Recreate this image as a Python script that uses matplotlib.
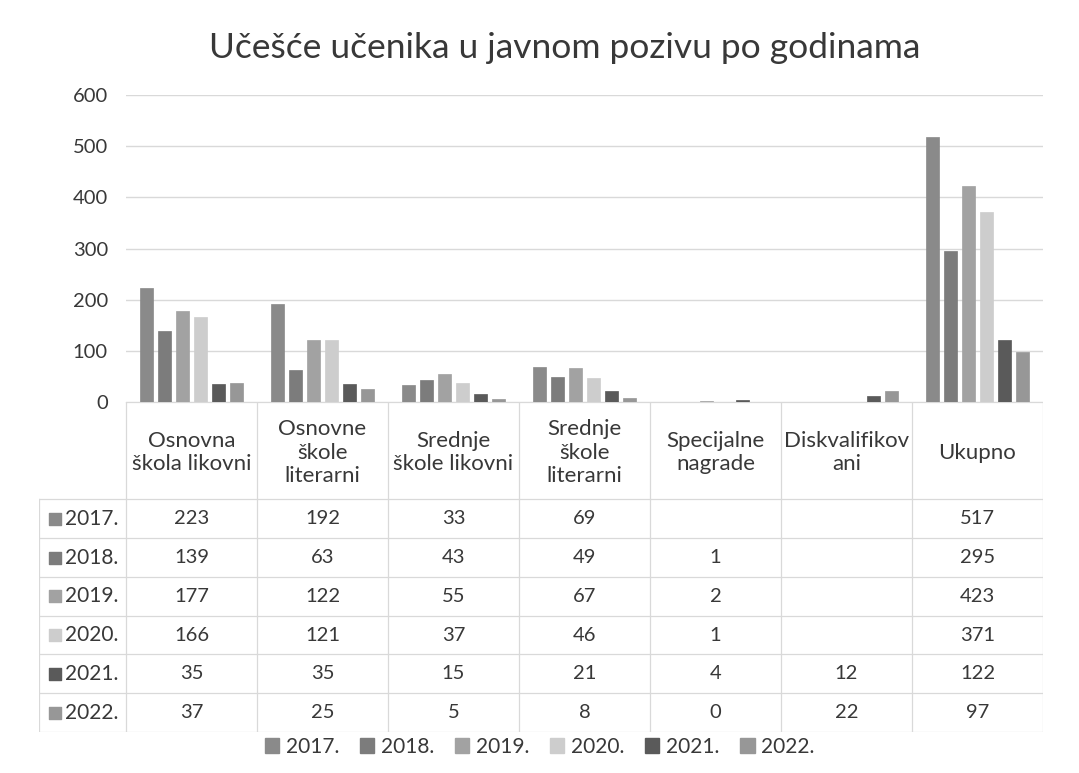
import numpy as np
import matplotlib
matplotlib.use('Agg')
import matplotlib.pyplot as plt
from matplotlib.patches import Patch

plt.rcParams['font.family'] = ['Lato', 'DejaVu Sans']

# Data (None = empty cell)
categories = ['Osnovna\nškola likovni', 'Osnovne\nškole\nliterarni', 'Srednje\nškole likovni',
              'Srednje\nškole\nliterarni', 'Specijalne\nnagrade', 'Diskvalifikov\nani', 'Ukupno']
years = ['2017.', '2018.', '2019.', '2020.', '2021.', '2022.']
y2017 = [223, 192, 33, 69, None, None, 517]
y2018 = [139, 63, 43, 49, 1, None, 295]
y2019 = [177, 122, 55, 67, 2, None, 423]
y2020 = [166, 121, 37, 46, 1, None, 371]
y2021 = [35, 35, 15, 21, 4, 12, 122]
y2022 = [37, 25, 5, 8, 0, 22, 97]
series = [y2017, y2018, y2019, y2020, y2021, y2022]
colors = ['#8a8a8a', '#7c7c7c', '#a2a2a2', '#cdcdcd', '#5a5a5a', '#979797']

grid_c = '#d9d9d9'
text_c = '#383838'

fig = plt.figure(figsize=(10.79, 7.73), dpi=100)

# ---- bar chart
ax = fig.add_axes([0.1168, 0.4799, 0.8499, 0.3972])
x = np.arange(len(categories))
step = 0.137
width = 0.10
for i, (vals, c) in enumerate(zip(series, colors)):
    v = [np.nan if a is None else a for a in vals]
    ax.bar(x + (i - 2.5) * step, v, width=width, color=c, edgecolor=c, linewidth=0.5, zorder=3)

ax.set_xlim(-0.5, len(categories) - 0.5)
ax.set_ylim(0, 600)
ax.set_yticks(range(0, 601, 100))
ax.yaxis.grid(True, color=grid_c, linewidth=1.0, zorder=0)
ax.set_xticks([])
ax.tick_params(axis='y', length=0, pad=13, labelsize=14.5, labelcolor=text_c)
for s in ax.spines.values():
    s.set_visible(False)

# ---- data table
tx = fig.add_axes([0.0361, 0.0530, 0.9305, 0.4269])
label_w = 0.664
hdr_h = 2.51
n_rows = len(years)
tx.set_xlim(-0.5 - label_w, len(categories) - 0.5)
tx.set_ylim(hdr_h + n_rows, 0)
tx.axis('off')

lw = 0.9
# horizontal lines
tx.plot([-0.5, len(categories) - 0.5], [0, 0], color=grid_c, lw=lw)
for r in range(n_rows + 1):
    tx.plot([-0.5 - label_w, len(categories) - 0.5], [hdr_h + r, hdr_h + r], color=grid_c, lw=lw)
# vertical lines
tx.plot([-0.5 - label_w] * 2, [hdr_h, hdr_h + n_rows], color=grid_c, lw=lw)
for k in range(len(categories) + 1):
    tx.plot([k - 0.5] * 2, [0, hdr_h + n_rows], color=grid_c, lw=lw)

for k, cat in enumerate(categories):
    tx.text(k, hdr_h / 2 + 0.05, cat, ha='center', va='center', fontsize=16,
            color=text_c, linespacing=1.2)

for r, (yr, vals, c) in enumerate(zip(years, series, colors)):
    yc = hdr_h + r + 0.5
    tx.scatter([-0.5 - label_w + 0.12], [yc], marker='s', s=70, color=c)
    tx.text(-0.5 - label_w + 0.2, yc, yr, ha='left', va='center', fontsize=15, color=text_c)
    for k, v in enumerate(vals):
        if v is not None:
            tx.text(k, yc, str(v), ha='center', va='center', fontsize=14.5, color=text_c)

# ---- legend
handles = [Patch(facecolor=c, edgecolor=c) for c in colors]
fig.legend(handles, years, loc='center', bbox_to_anchor=(0.5, 0.034), ncol=6, frameon=False,
           fontsize=15, handlelength=0.7, handleheight=0.7, handletextpad=0.3,
           columnspacing=1.0, labelcolor=text_c)

fig.suptitle('Učešće učenika u javnom pozivu po godinama', x=0.523, y=0.958,
             fontsize=25.5, color=text_c)

fig.savefig('out.png', dpi=100)
